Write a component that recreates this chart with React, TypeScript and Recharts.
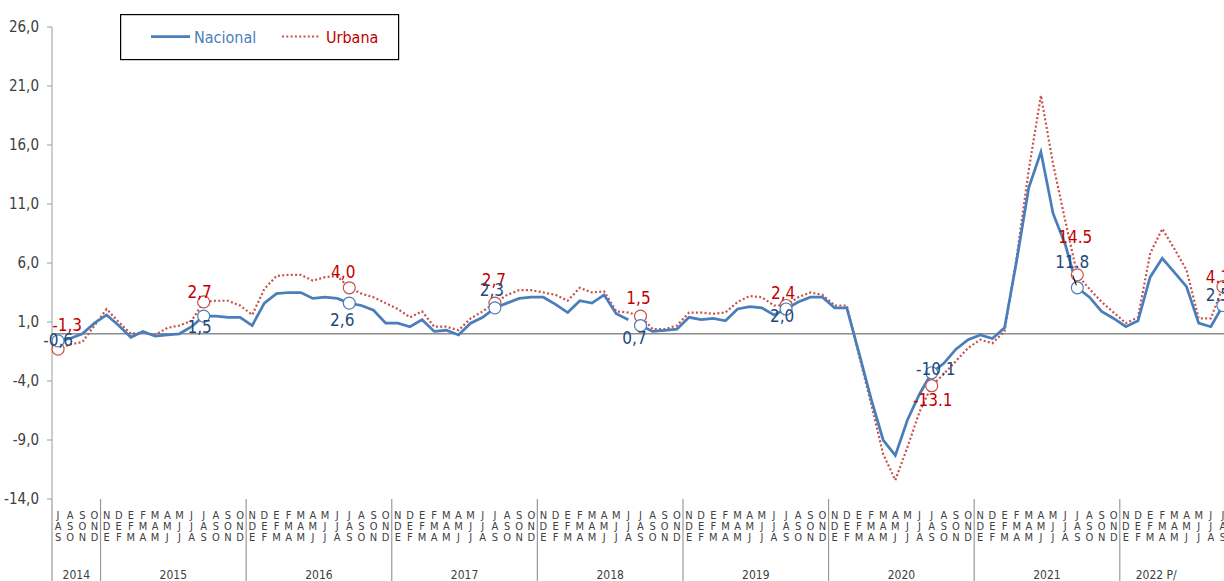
import { LineChart, Line, XAxis, YAxis, ReferenceLine, LabelList, Legend } from 'recharts'

const FONT = "'Liberation Sans Narrow', 'DejaVu Sans Condensed', 'Roboto', sans-serif"
const BLUE = '#4a7ebb'
const BLUE_TEXT = '#1f497d'
const RED = '#c8504d'
const RED_TEXT = '#c00000'
const AXIS = '#9a9a9a'
const TEXT = '#404040'

// trimestres móviles, desde jul-ago-sep 2014
const monthLetters = ['E', 'F', 'M', 'A', 'M', 'J', 'J', 'A', 'S', 'O', 'N', 'D']
const firstMonth = 6
const years = ['2014', '2015', '2016', '2017', '2018', '2019', '2020', '2021', '2022 P/']
const yearStart = [0, 4, 16, 28, 40, 52, 64, 76, 88]
const yearLabelAt = [1, 9, 21, 33, 45, 57, 69, 81, 90]
const yTicks = [-14, -9, -4, 1, 6, 11, 16, 21, 26]

const nacional = [
  -0.6, -0.4, 0.0, 0.9,
  1.6, 0.7, -0.3, 0.2, -0.2, -0.1, 0.0, 0.6, 1.5, 1.5, 1.4, 1.4,
  0.7, 2.6, 3.4, 3.5, 3.5, 3.0, 3.1, 3.0, 2.6, 2.4, 2.0, 0.9,
  0.9, 0.6, 1.2, 0.2, 0.3, -0.1, 0.9, 1.4, 2.2, 2.6, 3.0, 3.1,
  3.1, 2.5, 1.8, 2.8, 2.6, 3.3, 1.7, 1.2, 0.7, 0.2, 0.3, 0.4,
  1.4, 1.2, 1.3, 1.1, 2.1, 2.3, 2.2, 1.6, 2.1, 2.7, 3.1, 3.1,
  2.2, 2.2, -1.6, -5.5, -9.0, -10.3, -7.3, -5.1, -3.3, -2.5, -1.3, -0.5,
  -0.1, -0.4, 0.5, 6.2, 12.4, 15.4, 10.2, 7.6, 3.9, 3.1, 1.9, 1.3,
  0.6, 1.1, 4.8, 6.4, 5.2, 4.0, 0.9, 0.6, 2.4,
]

const urbana = [
  -1.3, -0.9, -0.7, 0.7,
  2.1, 1.0, 0.0, 0.1, -0.1, 0.5, 0.7, 1.1, 2.7, 2.8, 2.8, 2.4,
  1.6, 3.8, 4.9, 5.0, 5.0, 4.5, 4.8, 4.9, 3.9, 3.4, 3.1, 2.6,
  2.1, 1.4, 1.9, 0.6, 0.6, 0.3, 1.3, 1.9, 2.6, 3.3, 3.7, 3.7,
  3.5, 3.3, 2.8, 3.9, 3.5, 3.6, 1.9, 1.8, 1.5, 0.4, 0.4, 0.7,
  1.8, 1.8, 1.7, 1.8, 2.7, 3.2, 3.1, 2.4, 2.4, 3.1, 3.5, 3.3,
  2.4, 2.4, -1.8, -5.9, -10.2, -12.4, -9.6, -6.6, -4.4, -3.4, -2.3, -1.2,
  -0.5, -0.8, 0.2, 6.5, 13.9, 20.2, 14.4, 9.6, 5.0, 3.8, 2.7, 1.8,
  0.9, 1.4, 6.8, 8.9, 7.2, 5.4, 1.3, 1.3, 4.0,
]

const nacionalLabels = ['-0,6', '1,5', '2,6', '2,3', '0,7', '2,0', '-10.1', '11.8', '2.5']
const urbanaLabels = ['-1,3', '2,7', '4,0', '2,7', '1,5', '2,4', '-13.1', '14.5', '4.1']

// desplazamiento de cada etiqueta respecto a su punto
const nacionalOffsets = [[0, -1], [-4, 11], [-7, 17], [-3, -18], [-6, 12], [-4, 7], [4, -4], [-5, -26], [-5, -10]]
const urbanaOffsets = [[9, -24], [-4, -10], [-6, -16], [-1, -23], [-2, -18], [-3, -12], [1, 14], [-2, -38], [-5, -10]]

const N = nacional.length
const PLOT_W = 1177
const CHART_W = 1240
const BREAK = 48 // la serie nacional se corta entre jja y jas 2018

const data = nacional.map((v, i) => ({
  m: i,
  nacA: i < BREAK ? v : null,
  nacB: i >= BREAK ? v : null,
  urb: urbana[i],
}))

function MonthTick(props: any) {
  const { x, y, payload } = props
  const i = payload.value as number
  const half = PLOT_W / N / 2
  const ys = yearStart.indexOf(i)
  const yl = yearLabelAt.indexOf(i)
  return (
    <g>
      {ys >= 0 && <line x1={x - half} x2={x - half} y1={y} y2={y + 84} stroke={AXIS} strokeWidth={1.2} />}
      {[0, 1, 2].map((r) => (
        <text key={r} x={x} y={y + 19.5 + r * 11} textAnchor="middle" fontSize={11} fill={TEXT}>
          {monthLetters[(firstMonth + i + r) % 12]}
        </text>
      ))}
      {yl >= 0 && (
        <text x={x + half} y={y + 79.5} textAnchor="middle" fontSize={12} fill={TEXT}>
          {years[yl]}
        </text>
      )}
    </g>
  )
}

const markerDot = (stroke: string) => (props: any) => {
  const { cx, cy, index, value } = props
  if (value == null || cy == null || index % 12 !== 0) return <g key={`d${index}`} />
  return <circle key={`d${index}`} cx={cx} cy={cy} r={6} fill="#fff" stroke={stroke} strokeWidth={1.2} />
}

const pointLabel = (texts: string[], offsets: number[][], color: string, leader?: number) => (props: any) => {
  const { x, y, index, value } = props
  if (value == null || index % 12 !== 0) return null
  const k = index / 12
  const [dx, dy] = offsets[k]
  return (
    <g key={`l${index}`}>
      {leader === k && <line x1={x - 4.5} y1={y - 12.5} x2={x - 1} y2={y - 2.5} stroke="#000" strokeWidth={1} />}
      <text x={x + dx} y={y + dy} textAnchor="middle" dominantBaseline="central" fontSize={17} fill={color}>
        {texts[k]}
      </text>
    </g>
  )
}

const renderLegend = () => (
  <svg width={280} height={47} style={{ fontFamily: FONT }}>
    <rect x={0.6} y={0.6} width={278} height={45} fill="#fff" stroke="#000" strokeWidth={1.2} />
    <line x1={31} x2={70} y1={22.5} y2={22.5} stroke={BLUE} strokeWidth={2.75} />
    <text x={74} y={28.5} fontSize={16} fill={BLUE}>Nacional</text>
    <line x1={162} x2={200} y1={22.5} y2={22.5} stroke={RED} strokeWidth={2} strokeDasharray="2 2.3" />
    <text x={206} y={28.5} fontSize={16} fill={RED_TEXT}>Urbana</text>
  </svg>
)

export default function App() {
  return (
    <div
      style={{
        position: 'fixed',
        left: 0,
        top: 0,
        width: 1224,
        height: 581,
        overflow: 'hidden',
        background: '#fff',
        fontFamily: FONT,
      }}
    >
      <LineChart width={CHART_W} height={581} data={data} margin={{ top: 27, right: CHART_W - 52 - PLOT_W, bottom: 0, left: 0 }}>
        <ReferenceLine y={0} stroke="#8c8c8c" strokeWidth={1.6} />
        <XAxis
          dataKey="m"
          scale="band"
          interval={0}
          tickLine={false}
          axisLine={false}
          tickSize={0}
          tickMargin={0}
          height={82}
          tick={<MonthTick />}
        />
        <YAxis
          domain={[-14, 26]}
          ticks={yTicks}
          interval={0}
          allowDataOverflow
          width={52}
          stroke={AXIS}
          tickSize={5}
          tickMargin={8}
          tick={{ fill: TEXT, fontSize: 15 }}
          tickFormatter={(v: number) => v.toFixed(1).replace('.', ',')}
        />
        <Legend verticalAlign="middle" content={renderLegend} wrapperStyle={{ left: 120, top: 14, width: 280, height: 47 }} />
        <Line
          dataKey="urb"
          stroke={RED}
          strokeWidth={2.2}
          strokeDasharray="2 2.3"
          dot={markerDot(RED)}
          activeDot={false}
          isAnimationActive={false}
        >
          <LabelList dataKey="urb" content={pointLabel(urbanaLabels, urbanaOffsets, RED_TEXT)} />
        </Line>
        <Line
          dataKey="nacA"
          stroke={BLUE}
          strokeWidth={2.75}
          dot={markerDot(BLUE)}
          activeDot={false}
          isAnimationActive={false}
        >
          <LabelList dataKey="nacA" content={pointLabel(nacionalLabels, nacionalOffsets, BLUE_TEXT)} />
        </Line>
        <Line
          dataKey="nacB"
          stroke={BLUE}
          strokeWidth={2.75}
          dot={markerDot(BLUE)}
          activeDot={false}
          isAnimationActive={false}
        >
          <LabelList dataKey="nacB" content={pointLabel(nacionalLabels, nacionalOffsets, BLUE_TEXT, 7)} />
        </Line>
      </LineChart>
    </div>
  )
}
